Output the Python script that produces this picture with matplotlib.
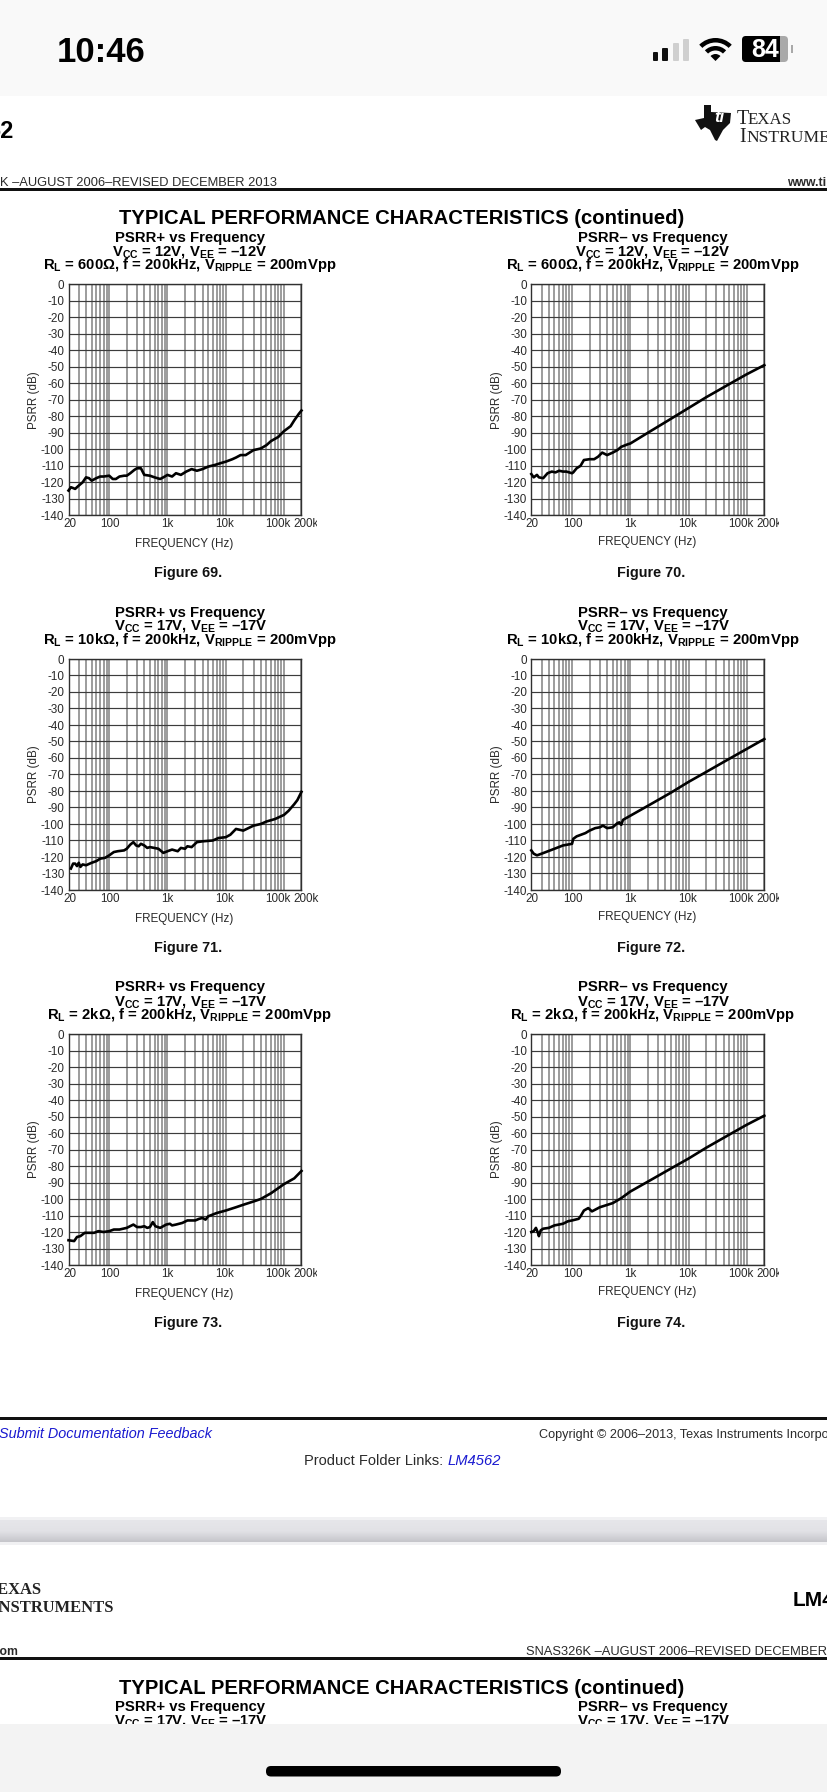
import matplotlib
matplotlib.use('Agg')
import matplotlib.pyplot as plt
from matplotlib.patches import Rectangle, FancyBboxPatch, Wedge, Polygon
from matplotlib.transforms import ScaledTranslation
import numpy as np

plt.rcParams['font.family'] = ['Liberation Sans', 'DejaVu Sans']
plt.rcParams['mathtext.fontset'] = 'custom'
plt.rcParams['mathtext.rm'] = 'Liberation Sans:bold'
plt.rcParams['mathtext.it'] = 'Liberation Sans:bold'
plt.rcParams['mathtext.bf'] = 'Liberation Sans:bold'
plt.rcParams['mathtext.default'] = 'regular'

# ---------- data ----------
f69 = [20,22,24,26,30,35,40,45,50,60,70,80,100,115,130,150,180,200,230,270,300,350,400,500,600,750,900,1000,1200,1400,1700,2100,2600,3200,4000,5000,6500,8000,10000,13000,15000,18000,22000,30000,40000,50000,60000,80000,100000,130000,150000,180000,200000]
v69 = [-125,-123,-123.5,-124,-122,-120,-117,-117.5,-119,-117.5,-116.5,-116.5,-116,-118,-118,-116.5,-116,-116,-114.5,-112.5,-111.5,-111.5,-115.5,-116,-117,-118,-116.5,-115.5,-116.5,-114.5,-115.5,-113.5,-112,-113,-112,-110.5,-109.5,-108.5,-107.5,-106,-105,-103.5,-103.5,-100.5,-99.5,-97.5,-95,-92.5,-89,-86,-82.5,-78.5,-76.5]
f70 = [20,22,25,27,32,38,45,52,60,70,80,100,105,120,140,160,200,240,280,330,400,500,600,700,900,1000,2000,5000,10000,20000,50000,100000,200000]
v70 = [-115,-117,-115.5,-117,-117.5,-114.5,-113.5,-114,-113,-113.5,-113.5,-114.5,-114,-111.5,-110,-106.5,-106,-106,-104.5,-102,-103.5,-102,-100.5,-98.5,-97,-96.5,-90,-81.5,-75,-68.5,-60.5,-54.5,-49]
f71 = [22,24,26,28,30,32,35,40,50,60,70,85,100,120,140,180,200,230,260,290,320,350,400,450,500,700,850,1000,1200,1500,1700,2000,2200,2600,3200,4000,6000,7500,10000,12000,15000,20000,30000,40000,50000,70000,100000,120000,150000,170000,200000]
v71 = [-127,-124,-124,-125.5,-123.5,-126,-124.5,-125,-123.5,-122.5,-121,-120.5,-119,-117,-116.5,-116,-115,-112.5,-111,-113,-113.5,-112,-113,-114.5,-114,-115,-117.5,-116.5,-115.5,-116.5,-114.5,-115,-113.5,-114,-111,-110.5,-110,-108.5,-108,-106.5,-103,-104,-101,-100,-98.5,-97,-94.5,-92,-88,-85.5,-80.5]
f72 = [20,22,25,30,50,70,100,105,120,170,200,250,300,340,400,500,600,650,700,750,1000,2000,5000,10000,20000,50000,100000,200000]
v72 = [-116,-118,-119,-118,-115,-113,-112,-109,-107.5,-105.5,-104,-102.5,-102,-101,-102.5,-102,-99.5,-99,-100.5,-97.5,-95,-89,-81,-74.5,-68.5,-60.5,-54.5,-48.5]
f73 = [20,25,28,32,38,50,55,65,80,100,120,150,200,260,300,350,400,450,500,560,620,750,950,1100,1200,1400,1800,2200,3000,3500,4000,4500,5000,7000,10000,15000,20000,30000,40000,60000,100000,150000,200000]
v73 = [-125,-125.5,-123,-122.5,-120.5,-120.5,-120.5,-119.5,-120,-119.5,-118.5,-118.5,-117.5,-115.5,-117,-117,-116.5,-117.5,-117,-114,-116.5,-117.5,-115.5,-115,-116,-115.5,-114.5,-113,-113,-112,-111.5,-112.5,-110.5,-108.5,-107,-105,-103.5,-101.5,-100,-96.5,-91,-87.5,-83]
f74 = [20,22,24,26,27,29,32,40,50,70,85,100,130,140,160,190,220,300,500,700,1000,2000,5000,10000,20000,50000,100000,200000]
v74 = [-120,-119.5,-117.5,-120.5,-122.5,-119,-118,-117.5,-116,-115,-113.5,-113,-112,-110.5,-107,-105.5,-107.5,-105,-102.5,-99.5,-95.5,-89.5,-81.5,-75.5,-69,-61,-55,-49.5]

titles = ['PSRR+ vs Frequency', 'PSRR– vs Frequency'] * 3
supplies = ['V$_{CC}$ = 12V, V$_{EE}$ = –12V'] * 2 + ['V$_{CC}$ = 17V, V$_{EE}$ = –17V'] * 4
conds = ['R$_L$ = 600Ω, f = 200kHz, V$_{RIPPLE}$ = 200mVpp'] * 2 + \
        ['R$_L$ = 10kΩ, f = 200kHz, V$_{RIPPLE}$ = 200mVpp'] * 2 + \
        ['R$_L$ = 2kΩ, f = 200kHz, V$_{RIPPLE}$ = 200mVpp'] * 2
fignames = ['Figure 69.', 'Figure 70.', 'Figure 71.', 'Figure 72.', 'Figure 73.', 'Figure 74.']
freqs = [f69, f70, f71, f72, f73, f74]
vals = [v69, v70, v71, v72, v73, v74]
xtick_vals = [20, 100, 1000, 10000, 100000, 200000]
xtick_labels = ['20', '100', '1k', '10k', '100k', '200k']
ytick_vals = list(range(0, -150, -10))

# ---------- layout (pixels) ----------
W, H = 828, 1792
fig = plt.figure(figsize=(W / 100, H / 100), dpi=100, facecolor='white')
lefts = [68.5, 531.3]
axw = 233
tops = [284.3, 659, 1034]
axh = 231
label_dx = [1, 1, 0, -1, -6, 5]
INK = '#2a2a2a'

ov = fig.add_axes([0, 0, 1, 1], zorder=10)
ov.set_xlim(0, W); ov.set_ylim(H, 0); ov.axis('off'); ov.patch.set_alpha(0)

def T(x, y, s, size=9, ha='left', color='black', **kw):
    return ov.text(x, y, s, fontsize=size, ha=ha, va='center', color=color, **kw)

for i in range(6):
    col, row = i % 2, i // 2
    L, Tp = lefts[col], tops[row]
    ax = fig.add_axes([L / W, 1 - (Tp + axh) / H, axw / W, axh / H], zorder=2)
    ax.set_xscale('log')
    ax.set_xlim(20, 200000)
    ax.set_ylim(-140, 0)
    ax.set_yticks(ytick_vals)
    ax.set_yticklabels([str(v) for v in ytick_vals], fontsize=8.4, color=INK)
    ax.set_xticks(xtick_vals)
    ax.set_xticklabels(xtick_labels, fontsize=8.4, color=INK)
    ax.xaxis.set_minor_locator(matplotlib.ticker.LogLocator(base=10, subs=range(2, 10), numticks=12))
    ax.xaxis.set_minor_formatter(matplotlib.ticker.NullFormatter())
    ax.tick_params(which='both', length=0)
    ax.tick_params(axis='y', pad=3)
    ax.tick_params(axis='x', pad=2)
    for lab, dx in zip(ax.get_xticklabels(), label_dx):
        lab.set_transform(lab.get_transform() + ScaledTranslation(dx / 100, 0, fig.dpi_scale_trans))
    ax.xaxis.grid(True, which='both', color='#949494', lw=1.3, zorder=1)
    ax.yaxis.grid(True, color='#3c3c3c', lw=0.85, zorder=1.5)
    ax.set_axisbelow(True)
    for s in ax.spines.values():
        s.set_color('#303030'); s.set_linewidth(1.0)
    ax.plot(freqs[i], vals[i], color='black', lw=1.9, solid_joinstyle='round', zorder=3, clip_on=False)

    ax.set_ylabel('PSRR (dB)', fontsize=8.4, color=INK, va='center')
    ax.yaxis.set_label_coords(-34.5 / axw, 0.5)
    ax.set_xlabel('FREQUENCY (Hz)', fontsize=8.4, color=INK, va='center')
    ax.xaxis.set_label_coords(0.5 - 1.0 / axw, -(29 if col == 0 else 27) / axh)

    cx = [190, 653][col]
    T(cx, Tp - 46.5, titles[i], 10.7, ha='center', weight='bold')
    T(cx, Tp - 32.5, supplies[i], 10.7, ha='center', weight='bold')
    T(cx, Tp - 19, conds[i], 10.7, ha='center', weight='bold')
    T(cx - 2, Tp + 288.5 if row == 0 else Tp + 289, fignames[i], 10.4, ha='center', weight='bold', color='#111111')

    if i != 2:
        clipx = [316.7, 779][col]
        ov.add_patch(Rectangle((clipx, Tp + axh + 1), 12, 16, color='white', lw=0, zorder=5))

# ---------- page furniture ----------
ov.add_patch(Rectangle((0, 0), W, 96, color='#f9f9f9', lw=0, zorder=0))
T(57, 52, '10:46', 25, weight='bold')
for x0, x1, y0, c in [(653, 658, 52, '#111111'), (662, 668, 48, '#111111'), (673, 679, 43, '#cfcfcf'), (683, 689, 39, '#cfcfcf')]:
    ov.add_patch(FancyBboxPatch((x0 + 1, y0 + 1), x1 - x0 - 2, 61 - y0 - 2, boxstyle='round,pad=1', color=c, lw=0))
for r, w in [(23, 4.5), (15, 4.5), (7, 7)]:
    ov.add_patch(Wedge((715.5, 61), r, 225, 315, width=w, color='black', lw=0))
ov.add_patch(FancyBboxPatch((746, 40), 38, 18, boxstyle='round,pad=4', color='#a9a9a9', lw=0))
ov.add_patch(FancyBboxPatch((746, 40), 20, 18, boxstyle='round,pad=4', color='black', lw=0))
ov.add_patch(Rectangle((760, 36), 20, 26, color='black', lw=0))
ov.add_patch(Rectangle((791, 45), 2.5, 8, color='#a9a9a9', lw=0))
T(765, 50, '84', 18, ha='center', color='white', weight='bold')

T(-13, 132, '62', 17, weight='bold')
logo_x = [704, 711, 711, 731, 730, 723, 717, 715, 710, 705, 701, 695, 704]
logo_y = [105, 105, 112, 113, 123, 130, 141, 140, 130, 127, 130, 120, 118]
ov.add_patch(Polygon(list(zip(logo_x, logo_y)), color='#111111', lw=0))
T(719, 118, 'ti', 12, ha='center', color='white', weight='bold', style='italic')
T(737, 120, 'T', 14.5, family='Liberation Serif', color='#222222')
T(747.5, 120.5, 'EXAS', 12.2, family='Liberation Serif', color='#222222')
T(739, 138, 'I', 14.5, family='Liberation Serif', color='#222222')
T(746.5, 138.5, 'NSTRUME', 12.6, family='Liberation Serif', color='#222222')

T(0, 182.5, 'K –AUGUST 2006–REVISED DECEMBER 2013', 9.3, color=INK)
T(787, 183, 'www.ti', 8.8, weight='bold', color=INK)
ov.add_patch(Rectangle((0, 188.5), W, 3, color='#111111', lw=0))
T(402, 218, 'TYPICAL PERFORMANCE CHARACTERISTICS (continued)', 14.6, ha='center', weight='bold')

ov.add_patch(Rectangle((0, 1417.5), W, 3, color='#111111', lw=0))
T(-1, 1434, 'Submit Documentation Feedback', 10.4, color='#1a1ad0', style='italic')
T(539, 1435, 'Copyright © 2006–2013, Texas Instruments Incorporated', 9.1, color=INK)
T(304, 1461, 'Product Folder Links: ', 10.5, color=INK)
T(447.5, 1461, 'LM4562', 10.6, color='#1a1ad0', style='italic')

ov.add_patch(Rectangle((0, 1517), W, 28, color='#f1f1f3', lw=0))
ov.imshow(np.linspace(0, 1, 32).reshape(-1, 1), extent=(0, W, 1542, 1520), cmap=matplotlib.colors.LinearSegmentedColormap.from_list('g', ['#e6e6ea', '#e2e2e6', '#c6c6cb']), aspect='auto', zorder=1)
ov.set_xlim(0, W); ov.set_ylim(H, 0)

T(-13, 1590, 'TEXAS', 11.9, family='Liberation Serif', color='#222222', weight='bold')
T(-8, 1608, 'INSTRUMENTS', 11.9, family='Liberation Serif', color='#222222', weight='bold')
T(793, 1600, 'LM4562', 15, weight='bold')
T(18, 1652, 'www.ti.com', 8.8, ha='right', weight='bold', color=INK)
T(526, 1652, 'SNAS326K –AUGUST 2006–REVISED DECEMBER 2013', 9.3, color=INK)
ov.add_patch(Rectangle((0, 1657.5), W, 3, color='#111111', lw=0))
T(402, 1688, 'TYPICAL PERFORMANCE CHARACTERISTICS (continued)', 14.6, ha='center', weight='bold')
T(190, 1707, titles[0], 10.7, ha='center', weight='bold')
T(653, 1707, titles[1], 10.7, ha='center', weight='bold')
T(190, 1721, supplies[2], 10.7, ha='center', weight='bold')
T(653, 1721, supplies[3], 10.7, ha='center', weight='bold')

ov.add_patch(Rectangle((0, 1724), W, H - 1724, color='#f3f3f3', lw=0, zorder=6))
ov.add_patch(FancyBboxPatch((271, 1771), 285, 0.5, boxstyle='round,pad=5', color='black', lw=0, zorder=7))

fig.savefig('out.png', dpi=100, facecolor='white')
